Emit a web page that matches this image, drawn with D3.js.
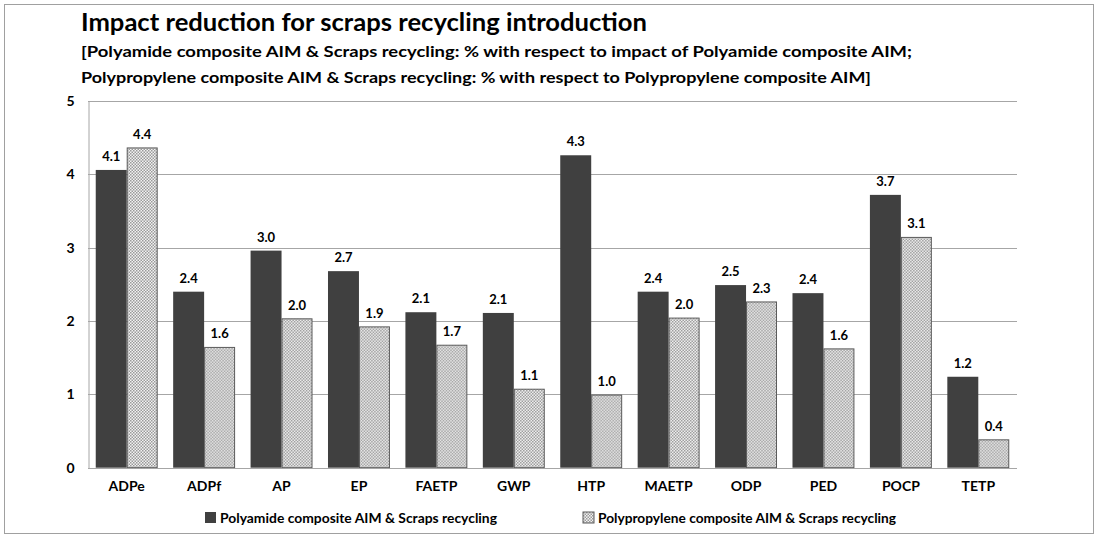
<!DOCTYPE html>
<html lang="en">
<head>
<meta charset="UTF-8">
<title>Impact reduction for scraps recycling introduction</title>
<script src="https://d3js.org/d3.v7.min.js"></script>
<style>
  body { margin: 0; background: #fff; }
  svg text { font-family: Lato, "Open Sans", sans-serif; font-weight: bold; fill: #000; }
</style>
</head>
<body>
<div id="chart"></div>
<script>
// data
const categories = ["ADPe", "ADPf", "AP", "EP", "FAETP", "GWP", "HTP", "MAETP", "ODP", "PED", "POCP", "TETP"];
const polyamide = [4.06, 2.40, 2.96, 2.68, 2.12, 2.11, 4.26, 2.40, 2.49, 2.38, 3.72, 1.24];
const polypropylene = [4.36, 1.64, 2.03, 1.92, 1.67, 1.07, 0.99, 2.04, 2.26, 1.62, 3.14, 0.38];
const seriesNames = ["Polyamide composite AIM & Scraps recycling", "Polypropylene composite AIM & Scraps recycling"];
const yTicks = [0, 1, 2, 3, 4, 5];

const W = 1098, H = 535;
const plot = {left: 88, right: 1017, top: 101, bottom: 467.7};

const svg = d3.select("#chart").append("svg")
    .attr("width", W).attr("height", H);

// checker pattern for the second series
const defs = svg.append("defs");
const pat = defs.append("pattern")
    .attr("id", "checker")
    .attr("width", 3).attr("height", 3)
    .attr("patternUnits", "userSpaceOnUse");
pat.append("rect").attr("width", 3).attr("height", 3).attr("fill", "#f2f2f2");
pat.append("rect").attr("width", 1.5).attr("height", 1.5).attr("fill", "#9a9a9a");
pat.append("rect").attr("x", 1.5).attr("y", 1.5).attr("width", 1.5).attr("height", 1.5).attr("fill", "#9a9a9a");

// outer frame
svg.append("rect")
    .attr("x", 4.5).attr("y", 4.5)
    .attr("width", 1089).attr("height", 529)
    .attr("fill", "none").attr("stroke", "#a0a0a0");

// titles
svg.append("text").attr("x", 81).attr("y", 31)
    .attr("font-size", 24).attr("textLength", 566).attr("lengthAdjust", "spacingAndGlyphs")
    .text("Impact reduction for scraps recycling introduction");
svg.append("text").attr("x", 81).attr("y", 57)
    .attr("font-size", 16).attr("textLength", 831).attr("lengthAdjust", "spacingAndGlyphs")
    .text("[Polyamide composite AIM & Scraps recycling: % with respect to impact of Polyamide composite AIM;");
svg.append("text").attr("x", 81).attr("y", 83)
    .attr("font-size", 16).attr("textLength", 790).attr("lengthAdjust", "spacingAndGlyphs")
    .text("Polypropylene composite AIM & Scraps recycling: % with respect to Polypropylene composite AIM]");

// scales
const x = d3.scaleBand().domain(categories).range([plot.left, plot.right]).paddingInner(0).paddingOuter(0);
const groupPad = 0.1;
const x1 = d3.scaleBand().domain([0, 1]).range([x.bandwidth() * groupPad, x.bandwidth() * (1 - groupPad)]);
const y = d3.scaleLinear().domain([0, 5]).range([plot.bottom, plot.top]);

// gridlines
svg.append("g").selectAll("line").data(yTicks.filter(d => d > 0)).join("line")
    .attr("x1", plot.left).attr("x2", plot.right)
    .attr("y1", d => Math.round(y(d)) + 0.5).attr("y2", d => Math.round(y(d)) + 0.5)
    .attr("stroke", "#a6a6a6");

// y axis
const yAxis = svg.append("g")
    .attr("transform", `translate(${plot.left + 0.5},0)`)
    .call(d3.axisLeft(y).tickValues(yTicks).tickSize(0).tickPadding(14).tickFormat(d3.format("d")));
yAxis.select(".domain").attr("stroke", "#a6a6a6");
yAxis.selectAll("text").attr("font-size", 14).style("font-family", "Lato, sans-serif").style("font-weight", "bold").attr("fill", "#000");

// bars
const rows = categories.map((c, i) => ({cat: c, vals: [polyamide[i], polypropylene[i]]}));
const groups = svg.append("g").selectAll("g").data(rows).join("g")
    .attr("transform", d => `translate(${x(d.cat)},0)`);

groups.selectAll("rect").data(d => d.vals.map((v, k) => ({v, k}))).join("rect")
    .attr("x", d => x1(d.k) + (d.k === 1 ? 0.5 : 0))
    .attr("y", d => y(d.v))
    .attr("width", d => x1.bandwidth() - (d.k === 1 ? 1 : 0))
    .attr("height", d => y(0) - y(d.v))
    .attr("fill", d => d.k === 0 ? "#404040" : "url(#checker)")
    .attr("stroke", d => d.k === 0 ? "none" : "#5a5a5a")
    .attr("stroke-width", 1);

groups.selectAll("text.lbl").data(d => d.vals.map((v, k) => ({v, k}))).join("text")
    .attr("class", "lbl")
    .attr("x", d => x1(d.k) + x1.bandwidth() / 2)
    .attr("y", d => y(d.v) - 9)
    .attr("text-anchor", "middle")
    .attr("font-size", 13)
    .text(d => d.v.toFixed(1));

// baseline
svg.append("line")
    .attr("x1", plot.left).attr("x2", plot.right)
    .attr("y1", Math.round(y(0)) + 0.5).attr("y2", Math.round(y(0)) + 0.5)
    .attr("stroke", "#a6a6a6");

// x labels
const xAxis = svg.append("g")
    .attr("transform", `translate(0,${plot.bottom})`)
    .call(d3.axisBottom(x).tickSize(0).tickPadding(13));
xAxis.select(".domain").remove();
xAxis.selectAll("text").attr("font-size", 14).style("font-family", "Lato, sans-serif").style("font-weight", "bold").attr("fill", "#000");

// legend
const legendX = [205, 583];
const legend = svg.append("g").selectAll("g").data(seriesNames).join("g")
    .attr("transform", (d, i) => `translate(${legendX[i]},512)`);
legend.append("rect")
    .attr("width", 11).attr("height", 11)
    .attr("fill", (d, i) => i === 0 ? "#404040" : "url(#checker)")
    .attr("stroke", (d, i) => i === 0 ? "none" : "#5a5a5a");
legend.append("text")
    .attr("x", 15).attr("y", 10.5)
    .attr("font-size", 14)
    .attr("textLength", (d, i) => i === 0 ? 277 : 298)
    .attr("lengthAdjust", "spacingAndGlyphs")
    .text(d => d);
</script>
</body>
</html>
